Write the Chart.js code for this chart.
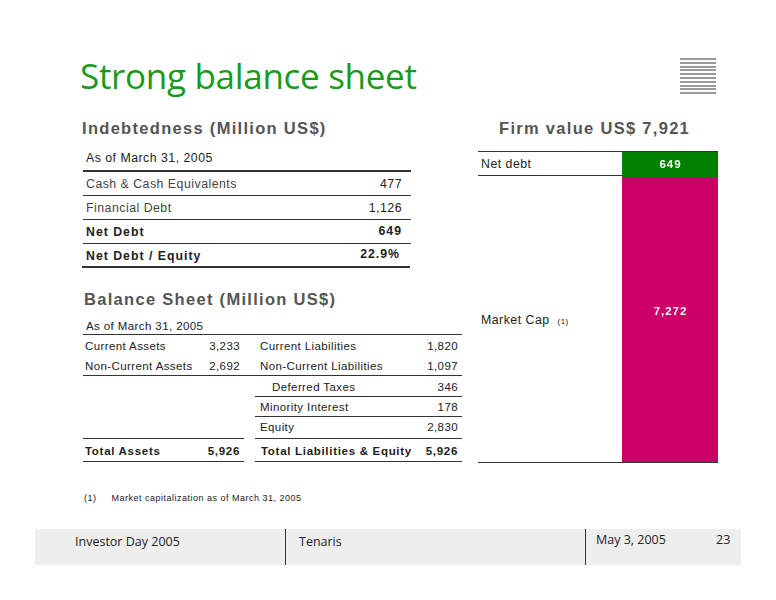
<!DOCTYPE html>
<html><head><meta charset="utf-8">
<script src="https://cdn.jsdelivr.net/npm/chart.js@4"></script>
<style>
body{margin:0;width:776px;height:600px;position:relative;background:#fff;font-family:"Liberation Sans",Arial,sans-serif;color:#222;overflow:hidden}
.t{position:absolute;white-space:nowrap;font-size:12.3px;letter-spacing:0.5px;line-height:14px}
.s{font-size:11.5px;letter-spacing:0.4px}
.b{font-weight:bold;letter-spacing:1px}
.s.b{letter-spacing:0.7px}
.r{text-align:right}
.l{position:absolute;background:#333;height:1px}
.h{position:absolute;font-weight:bold;font-size:16.5px;color:#555;letter-spacing:1.3px;white-space:nowrap}
</style></head><body>
<div style="position:absolute;left:80px;top:52px;font-family:'Open Sans',sans-serif;font-size:35px;color:#1a9a1a;letter-spacing:-0.3px">Strong balance sheet</div>
<div id="logo" style="position:absolute;left:680px;top:58px;width:36px;height:38px"></div>

<div class="h" style="left:82px;top:119px">Indebtedness (Million US$)</div>
<div class="h" style="left:499px;top:119px">Firm value US$ 7,921</div>

<div class="t" style="left:86px;top:151px">As of March 31, 2005</div>
<div class="l" style="left:83px;top:170px;width:328px;height:2px"></div>
<div class="t" style="left:86px;top:177px;color:#444">Cash &amp; Cash Equivalents</div><div class="t r" style="right:374px;top:177px">477</div>
<div class="l" style="left:83px;top:195px;width:328px"></div>
<div class="t" style="left:86px;top:201px;color:#444">Financial Debt</div><div class="t r" style="right:374px;top:201px">1,126</div>
<div class="l" style="left:83px;top:219px;width:328px"></div>
<div class="t b" style="left:86px;top:225px">Net Debt</div><div class="t b r" style="right:374px;top:224px">649</div>
<div class="l" style="left:83px;top:243px;width:328px"></div>
<div class="t b" style="left:86px;top:249px">Net Debt /  Equity</div><div class="t b r" style="right:376px;top:247px">22.9%</div>
<div class="l" style="left:82px;top:266px;width:328px;height:2px"></div>

<div class="h" style="left:84px;top:290px">Balance Sheet (Million US$)</div>
<div class="t s" style="left:86px;top:319px">As of March 31, 2005</div>
<div class="l" style="left:83px;top:334px;width:379px"></div>
<div class="t s" style="left:85px;top:339px">Current Assets</div><div class="t s r" style="right:536px;top:339px">3,233</div>
<div class="t s" style="left:260px;top:339px">Current Liabilities</div><div class="t s r" style="right:318px;top:339px">1,820</div>
<div class="t s" style="left:85px;top:359px">Non-Current Assets</div><div class="t s r" style="right:536px;top:359px">2,692</div>
<div class="t s" style="left:260px;top:359px">Non-Current Liabilities</div><div class="t s r" style="right:318px;top:359px">1,097</div>
<div class="l" style="left:83px;top:375px;width:379px"></div>
<div class="t s" style="left:272px;top:380px">Deferred Taxes</div><div class="t s r" style="right:318px;top:380px">346</div>
<div class="l" style="left:255px;top:396px;width:207px"></div>
<div class="t s" style="left:260px;top:400px">Minority Interest</div><div class="t s r" style="right:318px;top:400px">178</div>
<div class="l" style="left:255px;top:416px;width:207px"></div>
<div class="t s" style="left:260px;top:420px">Equity</div><div class="t s r" style="right:318px;top:420px">2,830</div>
<div class="l" style="left:83px;top:438px;width:161px"></div><div class="l" style="left:255px;top:438px;width:207px"></div>
<div class="t s b" style="left:85px;top:444px">Total Assets</div><div class="t s b r" style="right:536px;top:444px">5,926</div>
<div class="t s b" style="left:261px;top:444px">Total Liabilities &amp; Equity</div><div class="t s b r" style="right:318px;top:444px">5,926</div>
<div class="l" style="left:83px;top:461px;width:161px"></div><div class="l" style="left:255px;top:461px;width:207px"></div>

<div class="l" style="left:478px;top:151px;width:240px"></div>
<div class="t" style="left:481px;top:157px">Net debt</div>
<div class="l" style="left:478px;top:175px;width:240px"></div>
<div class="t" style="left:481px;top:313px">Market Cap <span style="font-size:8px;margin-left:4px">(1)</span></div>
<div class="l" style="left:478px;top:462px;width:240px"></div>
<div style="position:absolute;left:622px;top:152px;width:96px;height:310px"><canvas id="c"></canvas></div>

<div class="t" style="left:84px;top:491px;font-size:9px">(1)&nbsp;&nbsp;&nbsp;&nbsp;&nbsp;Market capitalization as of March 31, 2005</div>

<div style="position:absolute;left:35px;top:529px;width:706px;height:36px;background:#eeeeee"></div>
<div class="l" style="left:285px;top:529px;width:1px;height:36px"></div>
<div class="l" style="left:585px;top:529px;width:1px;height:36px"></div>
<div style="position:absolute;left:75px;top:533px;font-family:'Open Sans';font-size:12.5px">Investor Day 2005</div>
<div style="position:absolute;left:299px;top:533px;font-family:'Open Sans';font-size:12.5px">Tenaris</div>
<div style="position:absolute;left:596px;top:531px;font-family:'Open Sans';font-size:12.5px">May 3, 2005</div>
<div style="position:absolute;left:716px;top:531px;font-family:'Open Sans';font-size:12.5px">23</div>

<script>
const categories=["Firm value"];
const netDebt=[649];
const marketCap=[7272];
const total=7921;
const lg=document.getElementById('logo');
for(let i=0;i<10;i++){const d=document.createElement('div');d.style.cssText=`position:absolute;left:0;top:${i*3.8}px;width:36px;height:2px;background:#999`;lg.appendChild(d);}
const lbl={id:'lbl',afterDatasetsDraw(ch){const c=ch.ctx;c.save();c.fillStyle='#fff';c.font='bold 11.5px "Liberation Sans"';c.textAlign='center';
ch.data.datasets.forEach((ds,i)=>{const m=ch.getDatasetMeta(i).data[0];const v=ds.data[0];
const yy=i===1?m.y+16:m.y+(m.base-m.y)*0.47+4;
c.fillText(v.toLocaleString('en-US').split('').join(String.fromCharCode(8202)),m.x,yy);});c.restore();}};
new Chart(document.getElementById('c'),{type:'bar',
data:{labels:categories,datasets:[
{label:'Market Cap',data:marketCap,backgroundColor:'#cc0066',barPercentage:1,categoryPercentage:1},
{label:'Net debt',data:netDebt,backgroundColor:'#008000',barPercentage:1,categoryPercentage:1}]},
options:{responsive:true,maintainAspectRatio:false,animation:false,layout:{padding:0},
plugins:{legend:{display:false},tooltip:{enabled:false}},
scales:{x:{stacked:true,display:false},y:{stacked:true,display:false,min:0,max:total}}},
plugins:[lbl]});
</script>
</body></html>
